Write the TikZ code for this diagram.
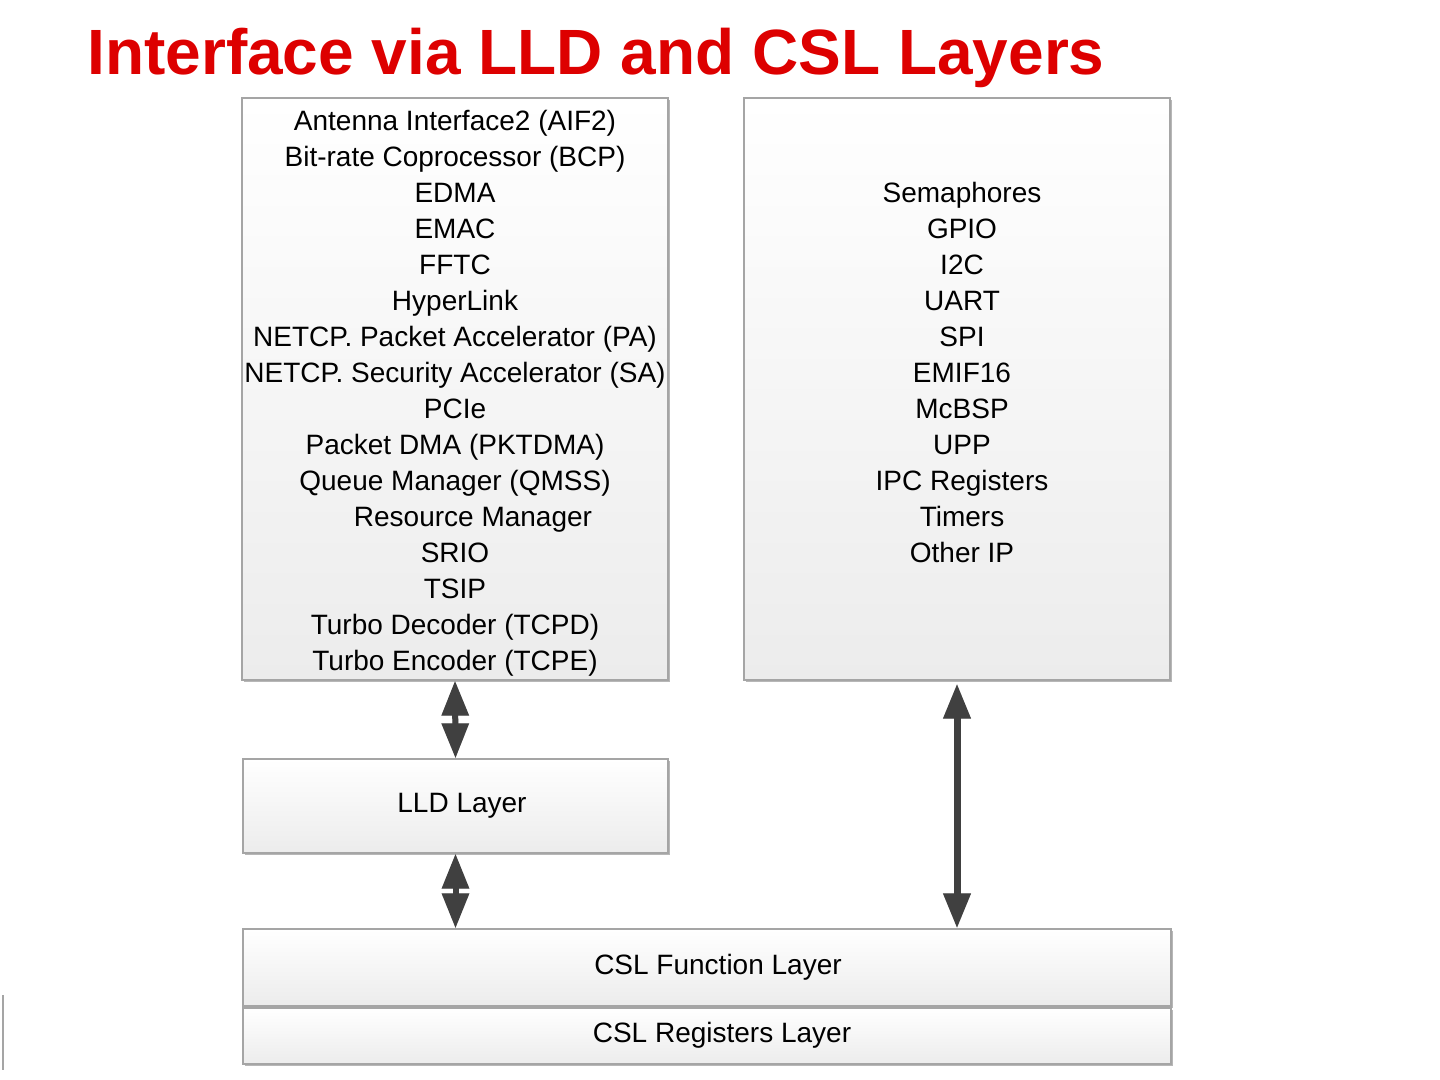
\documentclass[tikz,border=0pt]{standalone}
\usepackage{fontspec}
\setmainfont{Liberation Sans}
\usetikzlibrary{arrows.meta,shadows}
\definecolor{titlered}{RGB}{221,0,0}
\definecolor{boxline}{RGB}{165,165,165}
\definecolor{boxbot}{RGB}{236,236,236}
\definecolor{arrowgray}{RGB}{64,64,64}
\definecolor{arrowshadow}{RGB}{200,200,200}
\tikzset{
  layerbox/.style={draw=boxline, line width=0.6pt, top color=white, bottom color=boxbot,
    drop shadow={shadow xshift=1.2pt, shadow yshift=-1.2pt, fill=boxline!80, opacity=1},
    inner sep=0pt},
  bodytext/.style={font=\fontsize{14}{18}\selectfont, align=center, inner sep=0pt, text=black},
  titletext/.style={font=\fontsize{32}{38}\selectfont\bfseries, text=titlered, inner sep=0pt},
  dblarrow/.style={draw=arrowgray, line width=3pt,
    {Triangle[width=13pt,length=17.5pt]}-{Triangle[width=13pt,length=17.5pt]}},
  dblarrowshadow/.style={draw=arrowshadow, line width=3pt,
    {Triangle[width=13pt,length=17.5pt]}-{Triangle[width=13pt,length=17.5pt]}},
}
\begin{document}
\begin{tikzpicture}[x=0.5pt,y=-0.5pt]
\useasboundingbox (0,0) rectangle (1440,1080);
% title
\node[titletext, anchor=base west] (title) at (87,75) {Interface via LLD and CSL Layers};
% boxes
\node[layerbox, minimum width=213pt, minimum height=291pt] (lldips) at (455,389) {};
\node[layerbox, minimum width=213pt, minimum height=291pt] (cslips) at (957,389) {};
\node[layerbox, minimum width=212.5pt, minimum height=47pt] (lld) at (455.5,806) {};
\node[layerbox, minimum width=464pt, minimum height=38.5pt] (cslf) at (707,967.5) {};
\node[layerbox, minimum width=464pt, minimum height=28pt] (cslr) at (707,1036) {};
% texts (base anchor = baseline of the last line)
\node[bodytext, anchor=base] (lldlist) at (455,670) {Antenna Interface2 (AIF2)\\
Bit-rate Coprocessor (BCP)\\
EDMA\\
EMAC\\
FFTC\\
HyperLink\\
NETCP. Packet Accelerator (PA)\\
NETCP. Security Accelerator (SA)\\
PCIe\\
Packet DMA (PKTDMA)\\
Queue Manager (QMSS)\\
\hspace*{18pt}Resource Manager\\
SRIO\\
TSIP\\
Turbo Decoder (TCPD)\\
Turbo Encoder (TCPE)};
\node[bodytext, anchor=base] (csllist) at (962,562) {Semaphores\\
GPIO\\
I2C\\
UART\\
SPI\\
EMIF16\\
McBSP\\
UPP\\
IPC Registers\\
Timers\\
Other IP};
\node[bodytext] (lldtext) at (462,806) {LLD Layer};
\node[bodytext] (cslftext) at (718,967) {CSL Function Layer};
\node[bodytext] (cslrtext) at (722,1035) {CSL Registers Layer};
% arrows (shadows first)
\begin{scope}[xshift=1.5pt,yshift=-1pt]
\draw[dblarrowshadow] (lldips.south) -- (lld.north);
\draw[dblarrowshadow] (lld.south) -- (lld.south |- cslf.north);
\draw[dblarrowshadow] ([yshift=-1.5pt]cslips.south) -- (cslips.south |- cslf.north);
\end{scope}
\draw[dblarrow] (lldips.south) -- (lld.north);
\draw[dblarrow] (lld.south) -- (lld.south |- cslf.north);
\draw[dblarrow, line width=3.5pt] ([yshift=-1.5pt]cslips.south) -- (cslips.south |- cslf.north);
% left-edge mark
\coordinate (marktop) at (3,995);
\coordinate (markbot) at (3,1070);
\draw[boxline, line width=1pt] (marktop) -- (markbot);
\end{tikzpicture}
\end{document}
